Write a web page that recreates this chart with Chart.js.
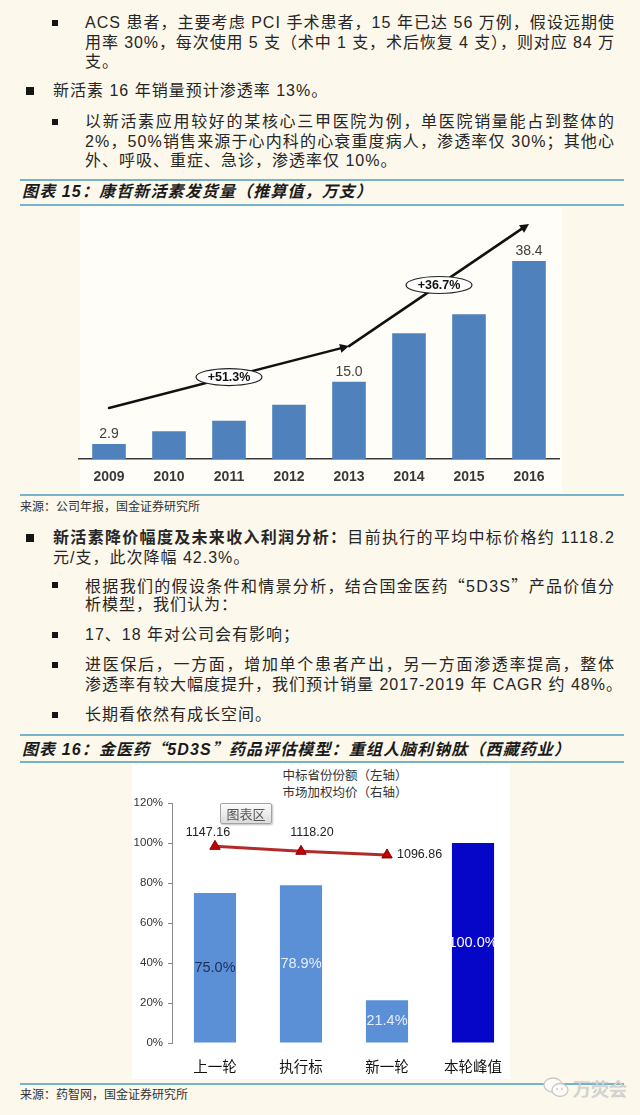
<!DOCTYPE html>
<html><head><meta charset="utf-8">
<script src="https://cdn.jsdelivr.net/npm/chart.js@4.4.1/dist/chart.umd.min.js"></script>
<style>
html,body{margin:0;padding:0}
body{width:640px;height:1115px;position:relative;overflow:hidden;background:#fcf8ec;font-family:"Liberation Sans",Arial,"Noto Sans CJK SC",sans-serif;color:#262626}
.ln{position:absolute;height:20px;line-height:20px;font-size:16px;letter-spacing:1px;white-space:nowrap}
.sub{left:85px}
.top{left:53px}
.bs{position:absolute;left:52px;width:6px;height:6px;background:#151515}
.bb{position:absolute;left:26px;width:8px;height:8px;background:#151515}
.rule{position:absolute;left:20px;width:604px;height:2px;background:#74b3c9}
.ttl{position:absolute;left:22px;height:22px;line-height:22px;font-size:16px;font-weight:bold;font-style:italic;white-space:nowrap;color:#1b1b1b}
.src{position:absolute;left:20px;font-size:12px;line-height:14px;color:#333;font-family:"Noto Sans CJK SC",sans-serif;white-space:nowrap}
.q{font-family:"Noto Sans CJK SC",sans-serif}
canvas{position:absolute}
.panel{position:absolute}
</style></head>
<body>
<!-- top text -->
<div class="bs" style="top:20px"></div>
<div class="ln sub fit" data-w="529" style="top:13px">ACS 患者，主要考虑 PCI 手术患者，15 年已达 56 万例，假设远期使</div>
<div class="ln sub fit" data-w="529" style="top:33px">用率 30%，每次使用 5 支（术中 1 支，术后恢复 4 支），则对应 84 万</div>
<div class="ln sub" style="top:52px">支。</div>
<div class="bb" style="top:87px"></div>
<div class="ln top" style="top:81px">新活素 16 年销量预计渗透率 13%。</div>
<div class="bs" style="top:119px"></div>
<div class="ln sub fit" data-w="529" style="top:112px">以新活素应用较好的某核心三甲医院为例，单医院销量能占到整体的</div>
<div class="ln sub fit" data-w="529" style="top:132px">2%，50%销售来源于心内科的心衰重度病人，渗透率仅 30%；其他心</div>
<div class="ln sub" style="top:151px">外、呼吸、重症、急诊，渗透率仅 10%。</div>

<div class="rule" style="top:179px"></div>
<div class="ttl fit" data-w="350" style="top:181px">图表 15：康哲新活素发货量（推算值，万支）</div>
<div class="rule" style="top:204px"></div>

<div class="panel" style="left:80px;top:207px;width:482px;height:286px;background:#fffdf7"></div>
<canvas id="c1" width="640" height="285" style="left:0;top:210px"></canvas>
<div class="rule" style="top:494px"></div>
<div class="src" style="top:499px">来源：公司年报，国金证券研究所</div>

<!-- middle text -->
<div class="bb" style="top:534px"></div>
<div class="ln top fit" data-w="561" style="top:528px"><b>新活素降价幅度及未来收入利润分析：</b>目前执行的平均中标价格约 1118.2</div>
<div class="ln top" style="top:548px">元/支，此次降幅 42.3%。</div>
<div class="bs" style="top:582px"></div>
<div class="ln sub fit" data-w="529" style="top:575px">根据我们的假设条件和情景分析，结合国金医药<span class="q">“</span>5D3S<span class="q">”</span>产品价值分</div>
<div class="ln sub" style="top:595px">析模型，我们认为：</div>
<div class="bs" style="top:632px"></div>
<div class="ln sub" style="top:625px">17、18 年对公司会有影响；</div>
<div class="bs" style="top:662px"></div>
<div class="ln sub fit" data-w="529" style="top:655px">进医保后，一方面，增加单个患者产出，另一方面渗透率提高，整体</div>
<div class="ln sub" style="top:675px">渗透率有较大幅度提升，我们预计销量 2017-2019 年 CAGR 约 48%。</div>
<div class="bs" style="top:712px"></div>
<div class="ln sub" style="top:705px">长期看依然有成长空间。</div>

<div class="rule" style="top:734px"></div>
<div class="ttl fit" data-w="548" style="top:737px">图表 16：金医药<span class="q">“</span>5D3S<span class="q">”</span>药品评估模型：重组人脑利钠肽（西藏药业）</div>
<div class="rule" style="top:761px"></div>

<div class="panel" style="left:132px;top:763px;width:378px;height:316px;background:#ffffff"></div>
<div style="position:absolute;left:245px;top:766px;width:200px;text-align:center;font:12.5px/17px 'Noto Sans CJK SC',sans-serif;color:#333">中标省份份额（左轴）<br>市场加权均价（右轴）</div>
<canvas id="c2" width="400" height="318" style="left:130px;top:762px"></canvas>
<div style="position:absolute;left:220px;top:803px;width:52px;height:21px;box-sizing:border-box;border:1px solid #a3a3a3;border-radius:2px;background:linear-gradient(#fcfcfc,#dcdcdc);box-shadow:1px 1px 2px rgba(0,0,0,.25);font:13px/19px 'Noto Sans CJK SC',sans-serif;color:#555;text-align:center">图表区</div>

<div class="rule" style="top:1083px"></div>
<div class="src" style="top:1087px">来源：药智网，国金证券研究所</div>
<svg style="position:absolute;left:542px;top:1076px" width="30" height="24" viewBox="0 0 30 24">
 <ellipse cx="11" cy="9" rx="9" ry="7" fill="#fdfbf6" stroke="#c9c9c9" stroke-width="1.3"/>
 <ellipse cx="18" cy="14" rx="8" ry="6.5" fill="#fdfbf6" stroke="#c9c9c9" stroke-width="1.3"/>
 <circle cx="15" cy="13" r="1" fill="#c9c9c9"/><circle cx="20" cy="13" r="1" fill="#c9c9c9"/>
</svg>
<div style="position:absolute;left:573px;top:1077px;font:18px/22px 'Noto Sans CJK SC',sans-serif;color:#d4d4d4;text-shadow:0 0 1px #aaa;white-space:nowrap">万荧会</div>

<script>
// ---------- Chart 15 data ----------
const years = ['2009', '2010', '2011', '2012', '2013', '2014', '2015', '2016'];
const shipments = [2.9, 5.4, 7.4, 10.5, 15.0, 24.4, 28.1, 38.4];
const labelledYears = ['2009', '2013', '2016'];
// trend arrow path in (category index, value) units
const trendIndex = [0, 4, 7];
const trendValue = [9.9, 21.9, 45.6];
const growthTexts = ['+51.3%', '+36.7%'];
const growthIndex = [2, 5.5];

// ---------- Chart 16 data ----------
const rounds = ['上一轮', '执行标', '新一轮', '本轮峰值'];
const provinceShare = [0.750, 0.789, 0.214, 1.000];
const weightedPrice = [1147.16, 1118.20, 1096.86, null];

Chart.defaults.font.family = '"Liberation Sans", "Noto Sans CJK SC", sans-serif';

function arrow(ctx, a, b) {
  const ang = Math.atan2(b[1] - a[1], b[0] - a[0]);
  const L = 9, W = 4.5;
  const bx = b[0] - L * Math.cos(ang), by = b[1] - L * Math.sin(ang);
  ctx.beginPath(); ctx.moveTo(a[0], a[1]); ctx.lineTo(bx + Math.cos(ang), by + Math.sin(ang)); ctx.stroke();
  ctx.beginPath(); ctx.moveTo(b[0], b[1]);
  ctx.lineTo(bx - W * Math.sin(ang), by + W * Math.cos(ang));
  ctx.lineTo(bx + W * Math.sin(ang), by - W * Math.cos(ang));
  ctx.closePath(); ctx.fill();
}

const deco1 = {
  id: 'deco1',
  afterDatasetsDraw(chart) {
    const { ctx } = chart; const x = chart.scales.x, y = chart.scales.y;
    const meta = chart.getDatasetMeta(0);
    ctx.save();
    ctx.font = '14px "Liberation Sans"'; ctx.fillStyle = '#404040';
    ctx.textAlign = 'center'; ctx.textBaseline = 'middle';
    meta.data.forEach((bar, i) => {
      if (labelledYears.includes(years[i])) ctx.fillText(shipments[i].toFixed(1), bar.x, bar.y - 10);
    });
    const pts = trendIndex.map((iv, k) => [x.getPixelForValue(iv), y.getPixelForValue(trendValue[k])]);
    ctx.strokeStyle = '#111'; ctx.fillStyle = '#111'; ctx.lineWidth = 2.5; ctx.lineCap = 'round';
    for (let k = 0; k < pts.length - 1; k++) arrow(ctx, pts[k], pts[k + 1]);
    growthTexts.forEach((t, k) => {
      const xv = growthIndex[k];
      let s = 0; while (s < trendIndex.length - 2 && xv > trendIndex[s + 1]) s++;
      const v = trendValue[s] + (trendValue[s + 1] - trendValue[s]) * (xv - trendIndex[s]) / (trendIndex[s + 1] - trendIndex[s]);
      const cx = x.getPixelForValue(xv), cy = y.getPixelForValue(v);
      ctx.beginPath(); ctx.ellipse(cx, cy, 33, 8.5, 0, 0, Math.PI * 2);
      ctx.fillStyle = '#fff'; ctx.fill(); ctx.lineWidth = 1.2; ctx.strokeStyle = '#222'; ctx.stroke();
      ctx.fillStyle = '#111'; ctx.font = 'bold 12.5px "Liberation Sans"'; ctx.fillText(t, cx, cy + 0.5);
    });
    ctx.restore();
  }
};

new Chart(document.getElementById('c1'), {
  type: 'bar',
  data: { labels: years, datasets: [{ data: shipments, backgroundColor: '#4f81bd', barPercentage: 0.56, categoryPercentage: 1 }] },
  options: {
    responsive: false, animation: false,
    layout: { padding: { left: 79, right: 81, top: 17, bottom: 6 } },
    plugins: { legend: { display: false }, tooltip: { enabled: false } },
    scales: {
      x: {
        grid: { display: false, drawTicks: false },
        border: { display: true, color: '#3a3a3a', width: 1.5 },
        ticks: { color: '#3a3a3a', font: { size: 14, weight: 'bold' }, padding: 10 },
        afterFit: s => { s.height = 30; }
      },
      y: { display: false, min: 0, max: 45 }
    }
  },
  plugins: [deco1]
});

const shareBarColors = ['#5b8fd6', '#5b8fd6', '#5b8fd6', '#0606c8'];
const shareLabelColors = ['#1d2f5c', '#e6eefa', '#e6eefa', '#ffffff'];
const priceLabelOffset = [[-7, -14, 'center'], [11, -19, 'center'], [10, 0, 'left']];

const deco2 = {
  id: 'deco2',
  afterDatasetsDraw(chart) {
    const ctx = chart.ctx;
    ctx.save();
    ctx.font = '14.5px "Liberation Sans"'; ctx.textAlign = 'center'; ctx.textBaseline = 'middle';
    chart.getDatasetMeta(1).data.forEach((b, i) => {
      ctx.fillStyle = shareLabelColors[i];
      ctx.fillText((provinceShare[i] * 100).toFixed(1) + '%', b.x, (b.y + b.base) / 2);
    });
    ctx.font = '12.5px "Liberation Sans"'; ctx.fillStyle = '#222';
    chart.getDatasetMeta(0).data.forEach((p, i) => {
      if (weightedPrice[i] == null) return;
      const o = priceLabelOffset[i];
      ctx.textAlign = o[2];
      ctx.fillText(weightedPrice[i].toFixed(2), p.x + o[0], p.y + o[1]);
    });
    ctx.restore();
  }
};

new Chart(document.getElementById('c2'), {
  type: 'bar',
  data: {
    labels: rounds,
    datasets: [
      { type: 'line', data: weightedPrice, yAxisID: 'y1', order: 0,
        borderColor: '#b22b2b', borderWidth: 3, pointStyle: 'triangle', pointRadius: 6,
        pointBackgroundColor: '#c00000', pointBorderColor: '#8b0000', pointBorderWidth: 1, spanGaps: false },
      { type: 'bar', data: provinceShare, yAxisID: 'y', order: 1,
        backgroundColor: shareBarColors, barPercentage: 0.49, categoryPercentage: 1 }
    ]
  },
  options: {
    responsive: false, animation: false,
    layout: { padding: { left: 0, right: 14, top: 41, bottom: 0 } },
    plugins: { legend: { display: false }, tooltip: { enabled: false } },
    scales: {
      x: {
        grid: { display: false, drawTicks: false },
        border: { display: false },
        ticks: { color: '#111', font: { size: 14.5, family: '"Noto Sans CJK SC", sans-serif' }, padding: 15 },
        afterFit: s => { s.height = 37; }
      },
      y: {
        position: 'left', min: 0, max: 1.2,
        ticks: { stepSize: 0.2, color: '#333', font: { size: 11.5 }, padding: 5,
          callback: v => Math.round(v * 100) + '%' },
        grid: { display: true, drawOnChartArea: false, drawTicks: true, tickLength: 4, color: '#8c8c8c' },
        border: { display: true, color: '#8c8c8c', width: 1 },
        afterFit: s => { s.width = 42; }
      },
      y1: { position: 'right', display: false, min: 0, max: 1400 }
    }
  },
  plugins: [deco2]
});

function fitLines() {
  document.querySelectorAll('.fit').forEach(el => {
    el.style.letterSpacing = '0px';
    const target = parseFloat(el.dataset.w);
    const r = document.createRange(); r.selectNodeContents(el);
    const w = r.getBoundingClientRect().width;
    const n = el.textContent.length;
    el.style.letterSpacing = ((target - w) / (n - 1)) + 'px';
  });
}
fitLines();
if (document.fonts && document.fonts.ready) document.fonts.ready.then(fitLines);
</script>
</body></html>
